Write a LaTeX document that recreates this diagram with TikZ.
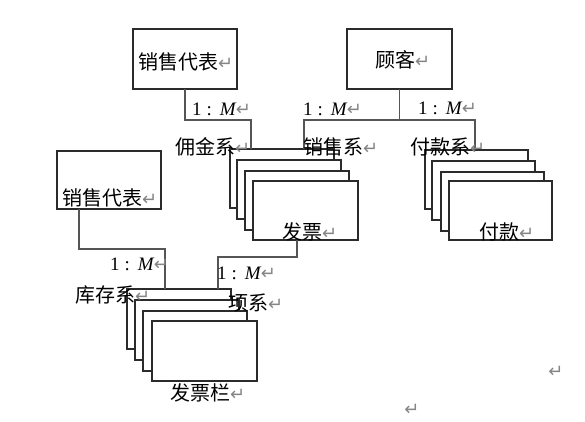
\documentclass[tikz,border=0pt]{standalone}
\usepackage{fontspec}
\setmainfont{Noto Sans CJK SC}
\newfontfamily\dvfont{DejaVu Sans}
\newfontfamily\serfont{Liberation Serif}
\definecolor{edgec}{HTML}{2B2B2B}
\definecolor{wirec}{HTML}{555555}
\definecolor{pmarkc}{HTML}{858585}
\newcommand{\parmark}{{\dvfont\fontsize{18}{18}\selectfont\color{pmarkc}↵}}
\newcommand{\onem}{{\serfont 1\hspace{5pt}:\hspace{8pt}{\itshape M}}}
\begin{document}
\begin{tikzpicture}[x=1pt,y=-1pt,
  box/.style={draw=edgec,line width=1.3pt,fill=white,inner sep=0pt,outer sep=0pt,
    minimum width=104pt,minimum height=60pt,anchor=north west},
  docbox/.style={box,minimum height=59pt},
  wire/.style={draw=wirec,line width=1.3pt},
  lbl/.style={anchor=west,inner sep=0pt,font=\fontsize{20}{20}\selectfont},
  rat/.style={anchor=west,inner sep=0pt,font=\fontsize{19}{19}\selectfont}]
\useasboundingbox (0,0) rectangle (585,421);

% entity boxes
\node[box] (sa1) at (133,29) {};
\node[box,minimum width=105pt] (gk) at (347,29) {};
\node[box,minimum height=58pt] (sa2) at (57,151) {};

% stack: 发票
\node[docbox] (fp1) at (230,149) {};
\node[docbox] (fp2) at (237,160) {};
\node[docbox] (fp3) at (245,171) {};
\node[docbox,minimum width=105pt] (fp4) at (253,181) {};

% stack: 付款
\node[docbox,minimum width=103pt] (fk1) at (425,150) {};
\node[docbox,minimum width=103pt] (fk2) at (432,161) {};
\node[docbox,minimum width=103pt] (fk3) at (441,172) {};
\node[docbox,minimum width=103pt] (fk4) at (449,181) {};

% stack: 发票栏
\node[docbox,minimum height=60pt] (fl1) at (127,289) {};
\node[docbox,minimum height=60pt] (fl2) at (135,300) {};
\node[docbox,minimum height=60pt] (fl3) at (143,311) {};
\node[docbox,minimum height=60pt,minimum width=105pt] (fl4) at (152,321) {};

% connectors
\draw[wire] (sa1.south) |- (251,120) -- ([xshift=21]fp1.north west);
\draw[wire] (gk.south) -- ++(0,31);
\draw[wire] ([xshift=74]fp1.north west) -- ++(0,-29) -| ([xshift=50]fk1.north west);
\draw[wire] ([xshift=44]fp4.south west) -- ++(0,17) -| ([xshift=91]fl1.north west);
\draw[wire] ([xshift=22]sa2.south west) |- (165,249) -- ([xshift=38]fl1.north west);

% texts in boxes
\node[lbl] (sa1t) at (138,62) {销售代表\parmark};
\node[lbl] (gkt) at (375,60) {顾客\parmark};
\node[lbl] (sa2t) at (62,198) {销售代表\parmark};
\node[lbl] (fpt) at (282,232) {发票\parmark};
\node[lbl] (fkt) at (479,232) {付款\parmark};
\node[lbl] (flt) at (170,393) {发票栏\parmark};

% relationship labels
\node[lbl] (r1) at (175,147) {佣金系\parmark};
\node[lbl] (r2) at (303,147) {销售系\parmark};
\node[lbl] (r3) at (410,147) {付款系\parmark};
\node[lbl] (r4) at (75,295) {库存系\parmark};
\node[lbl] (r5) at (228,303) {项系\parmark};

% cardinalities
\node[rat] (c1) at (192,109) {\onem\parmark};
\node[rat] (c2) at (303,109) {\onem\parmark};
\node[rat] (c3) at (418,108) {\onem\parmark};
\node[rat] (c4) at (110,264) {\onem\parmark};
\node[rat] (c5) at (217,273) {\onem\parmark};

% stray paragraph marks
\node[inner sep=0pt] (pm1) at (556,372) {\parmark};
\node[inner sep=0pt] (pm2) at (412,410) {\parmark};
\end{tikzpicture}
\end{document}
